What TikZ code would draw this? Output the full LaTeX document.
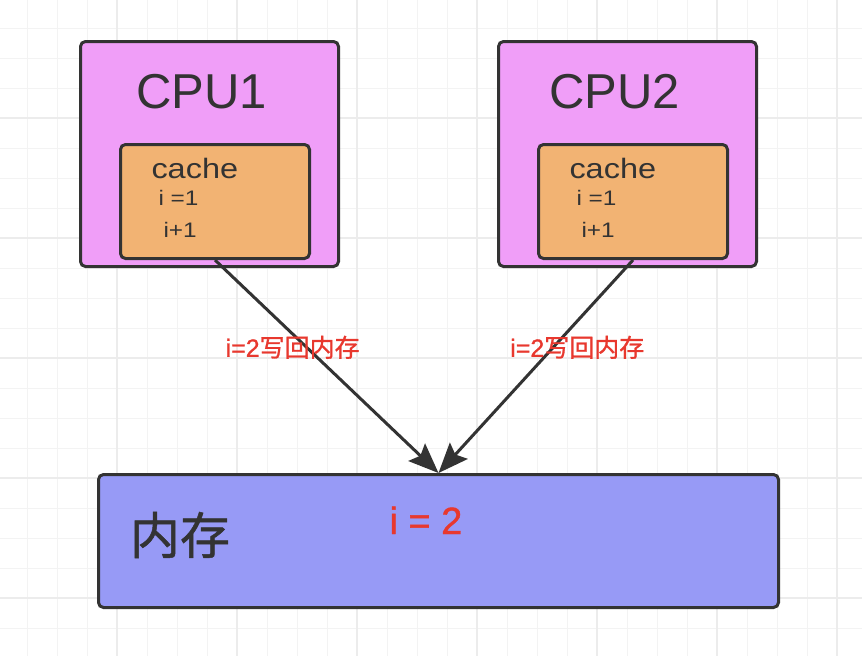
\documentclass[tikz,border=0pt]{standalone}
\usepackage{fontspec}
\setmainfont{Liberation Sans}
\newfontfamily\widesans[FakeStretch=1.16]{Liberation Sans}
\newfontfamily\cjk{Noto Sans CJK SC}
\newfontfamily\boldcjk[FakeBold=1]{Noto Sans CJK SC}
\newfontfamily\boldsans[FakeBold=1]{Liberation Sans}
\usetikzlibrary{arrows.meta}

\definecolor{cpupink}{RGB}{240,158,248}
\definecolor{cacheorange}{RGB}{242,179,115}
\definecolor{memblue}{RGB}{151,154,246}
\definecolor{boxline}{RGB}{51,51,51}
\definecolor{textred}{RGB}{232,56,46}
\definecolor{gridminor}{RGB}{243,243,243}
\definecolor{gridmajor}{RGB}{236,236,236}

\begin{document}
\begin{tikzpicture}[x=1pt,y=-1pt,>={Stealth[length=30pt,width=24pt,inset=5pt]},
    line width=3pt,node distance=418pt,
    box/.style={draw=boxline,rounded corners=5pt,inner sep=0pt},
    cpu node/.style={box,fill=cpupink,minimum width=258pt,minimum height=225pt},
    cache node/.style={box,fill=cacheorange,minimum width=189pt,minimum height=114pt},
    mem node/.style={box,fill=memblue,minimum width=680pt,minimum height=133pt},
    txt/.style={inner sep=0pt,anchor=base west,text=boxline},
    lbl/.style={inner sep=0pt,text=textred,font=\boldsans\fontsize{25}{30}\selectfont}]

\useasboundingbox (0,0) rectangle (862,656);
\fill[white] (0,0) rectangle (862,656);

% background grid
\foreach \x in {27,57,...,837}
  \draw[gridminor,line width=1pt] (\x,0) -- (\x,656);
\foreach \y in {28,58,...,658}
  \draw[gridminor,line width=1pt] (0,\y) -- (862,\y);
\foreach \x in {117,237,...,837}
  \draw[gridmajor,line width=1.3pt] (\x,0) -- (\x,656);
\foreach \y in {118,238,...,598}
  \draw[gridmajor,line width=1.3pt] (0,\y) -- (862,\y);

\node[cpu node] (cpu1) at (209.5,154) {};
\node[cpu node] (cpu2) [right of=cpu1] {};
\node[cache node] (cache1) at (215,201.5) {};
\node[cache node] (cache2) at (633,201.5) {};
\node[mem node] (mem) at (438.5,541) {};

\node[txt,font=\fontsize{49}{59}\selectfont] (name1) at (135,108) {CPU1};
\node[txt,font=\widesans\fontsize{28}{34}\selectfont] (title1) at (150,178) {cache};
\node[txt,font=\widesans\fontsize{21}{25}\selectfont] (val1) at (157,205) {i =1};
\node[txt,font=\widesans\fontsize{21}{25}\selectfont] (op1) at (162,237) {i+1};

\node[txt,font=\fontsize{49}{59}\selectfont] (name2) at (548,108) {CPU2};
\node[txt,font=\widesans\fontsize{28}{34}\selectfont] (title2) at (568,178) {cache};
\node[txt,font=\widesans\fontsize{21}{25}\selectfont] (val2) at (575,205) {i =1};
\node[txt,font=\widesans\fontsize{21}{25}\selectfont] (op2) at (580,237) {i+1};

\node[inner sep=0pt,text=boxline,font=\boldcjk\fontsize{50}{60}\selectfont] (memname) at (180,535) {内存};
\node[txt,text=textred,font=\boldsans\fontsize{38}{46}\selectfont] (memval) at (388,534) {i = 2};

\draw[->,boxline] (cache1.south) -- node[lbl,pos=.41,xshift=-14pt] (wb1) {i=2{\boldcjk 写回内存}} (mem.north);
\draw[->,boxline] (cache2.south) -- node[lbl,pos=.41,xshift=24pt] (wb2) {i=2{\boldcjk 写回内存}} (mem.north);

\end{tikzpicture}
\end{document}
